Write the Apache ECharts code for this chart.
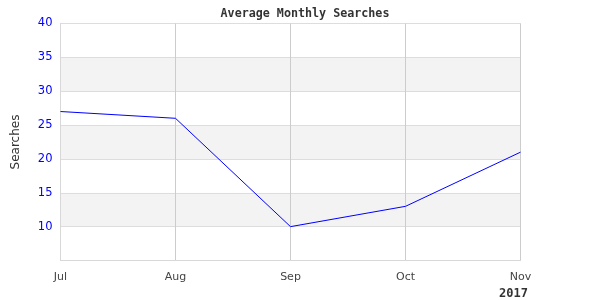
<!DOCTYPE html>
<html><head><meta charset="utf-8">
<script src="https://cdn.jsdelivr.net/npm/echarts@6/dist/echarts.min.js"></script>
<style>html,body{margin:0;padding:0;background:#fff}#c{width:600px;height:300px}</style>
</head><body><div id="c"></div>
<script>
const categories = ['Jul', 'Aug', 'Sep', 'Oct', 'Nov'];
const searches = [27, 26, 10, 13, 21];
const yMin = 5, yMax = 40, yStep = 5;

const chart = echarts.init(document.getElementById('c'), null, {renderer: 'canvas'});
chart.setOption({
  animation: false,
  backgroundColor: '#fff',
  title: {
    text: 'Average Monthly Searches', left: 300, top: 3, textAlign: 'center',
    textStyle: {fontFamily: 'DejaVu Sans Mono', fontWeight: 'bold', fontSize: 11.7, color: '#333'}
  },
  graphic: [{
    type: 'text', left: 499, top: 288,
    style: {text: '2017', font: 'bold 12px "DejaVu Sans Mono"', fill: '#333'}
  }],
  grid: {left: 60.5, right: 79.5, top: 23.5, bottom: 39.5, show: true, borderColor: '#d8d8d8', borderWidth: 1,
    backgroundColor: 'transparent', outerBoundsMode: 'none', containLabel: false},
  xAxis: {
    type: 'category', data: categories, boundaryGap: false,
    axisLine: {show: true, lineStyle: {color: '#d8d8d8'}},
    axisTick: {show: false},
    axisLabel: {color: '#444', fontFamily: 'DejaVu Sans', fontSize: 11, margin: 11},
    splitLine: {show: true, lineStyle: {color: '#cccccc'}}
  },
  yAxis: {
    type: 'value', min: yMin, max: yMax, interval: yStep,
    name: 'Searches', nameLocation: 'middle', nameGap: 39, nameRotate: 90,
    nameTextStyle: {color: '#333', fontFamily: 'DejaVu Sans', fontSize: 12},
    axisLine: {show: true, lineStyle: {color: '#d8d8d8'}},
    axisTick: {show: false},
    axisLabel: {color: '#0000ff', fontFamily: 'DejaVu Sans', fontSize: 11.5, margin: 8,
      formatter: v => v === yMin ? '' : String(v)},
    splitLine: {show: true, lineStyle: {color: '#dddddd'}},
    splitArea: {show: true, areaStyle: {color: ['#ffffff', '#f3f3f3']}}
  },
  series: [{
    type: 'line', data: searches, showSymbol: false, symbol: 'none',
    lineStyle: {color: '#0000ff', width: 1}
  }]
});
</script>
</body></html>
